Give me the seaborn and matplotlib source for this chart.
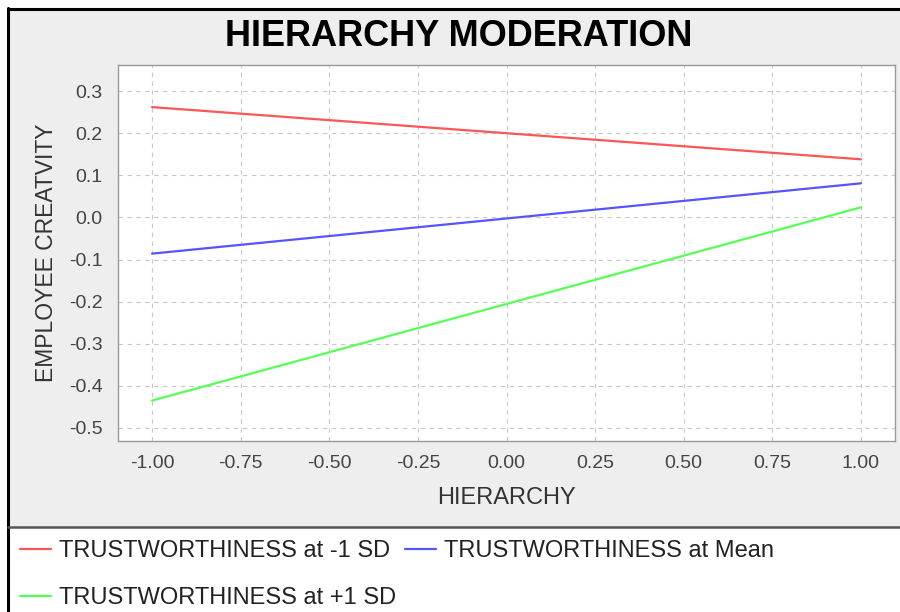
import matplotlib
matplotlib.use("Agg")
import matplotlib.pyplot as plt
from matplotlib.patches import Rectangle
from matplotlib.lines import Line2D
import seaborn as sns
import pandas as pd

# data
hierarchy = [-1.0, 1.0]
low_sd = [0.262, 0.138]
at_mean = [-0.086, 0.081]
high_sd = [-0.435, 0.024]
series_names = ["TRUSTWORTHINESS at -1 SD", "TRUSTWORTHINESS at Mean", "TRUSTWORTHINESS at +1 SD"]
series_colors = ["#FF5555", "#5555FF", "#55FF55"]
x_ticks = [-1.00, -0.75, -0.50, -0.25, 0.00, 0.25, 0.50, 0.75, 1.00]
y_ticks = [-0.5, -0.4, -0.3, -0.2, -0.1, 0.0, 0.1, 0.2, 0.3]

df = pd.DataFrame({
    "HIERARCHY": hierarchy * 3,
    "CREATIVITY": low_sd + at_mean + high_sd,
    "series": [series_names[0]] * 2 + [series_names[1]] * 2 + [series_names[2]] * 2,
})

sns.set_style("white")
plt.rcParams["font.family"] = ["Liberation Sans", "DejaVu Sans"]

W, H = 900, 612
fig = plt.figure(figsize=(9, 6.12), dpi=100, facecolor="white")

def fx(px):
    return px / W

def fy(py):
    return 1 - py / H

# chart background (gray) and legend area (white), black frame top/left
fig.patches.append(Rectangle((fx(8), fy(527)), 1 - fx(8), fy(8) - fy(527),
                             transform=fig.transFigure, facecolor="#EEEEEE",
                             edgecolor="none", zorder=-5))
fig.lines.append(Line2D([fx(8), fx(8)], [0, fy(8)], transform=fig.transFigure,
                        color="black", lw=2.2))
fig.lines.append(Line2D([fx(8), 1], [fy(9), fy(9)], transform=fig.transFigure,
                        color="black", lw=2.2))
fig.lines.append(Line2D([fx(8), 1], [fy(527), fy(527)], transform=fig.transFigure,
                        color="#555555", lw=1.8))

ax = fig.add_axes([fx(118), fy(441), fx(895) - fx(118), fy(65) - fy(441)])
ax.set_facecolor("white")

sns.lineplot(data=df, x="HIERARCHY", y="CREATIVITY", hue="series",
             hue_order=series_names, palette=series_colors, linewidth=1.6,
             legend=False, ax=ax)

ax.set_xlim(-1.096, 1.096)
ax.set_ylim(-0.531, 0.362)
ax.set_xticks(x_ticks)
ax.set_xticklabels([f"{v:.2f}" for v in x_ticks])
ax.set_yticks(y_ticks)
ax.set_yticklabels([f"{v:.1f}" for v in y_ticks])
ax.grid(True, color="#C8C8C8", linestyle=(0, (4, 4)), linewidth=0.8)
ax.set_axisbelow(True)
for sp in ax.spines.values():
    sp.set_color("#999999")
    sp.set_linewidth(1.0)
ax.tick_params(axis="both", which="both", direction="out", length=4, width=0.8,
               color="#888888", labelcolor="#444444", labelsize=14)
ax.tick_params(axis="x", pad=6)
ax.tick_params(axis="y", pad=7)

ax.set_xlabel("HIERARCHY", fontsize=17, color="#333333", labelpad=11)
ax.set_ylabel("EMPLOYEE CREATVITY", fontsize=16.5, color="#333333", labelpad=8)

fig.text(fx(459), fy(36), "HIERARCHY MODERATION", ha="center", va="center",
         fontsize=26, fontweight="bold", color="black")

handles = [Line2D([], [], color=c, lw=1.6) for c in series_colors]
fig.legend([handles[0], handles[2], handles[1]],
           [series_names[0], series_names[2], series_names[1]],
           ncol=2, loc="upper left", bbox_to_anchor=(fx(13), fy(533)),
           frameon=False, fontsize=17, handlelength=1.3, handletextpad=0.33,
           columnspacing=0.4, labelspacing=1.05, borderaxespad=0, borderpad=0.3,
           labelcolor="#222222")

fig.savefig("out.png", dpi=100, facecolor="white")
